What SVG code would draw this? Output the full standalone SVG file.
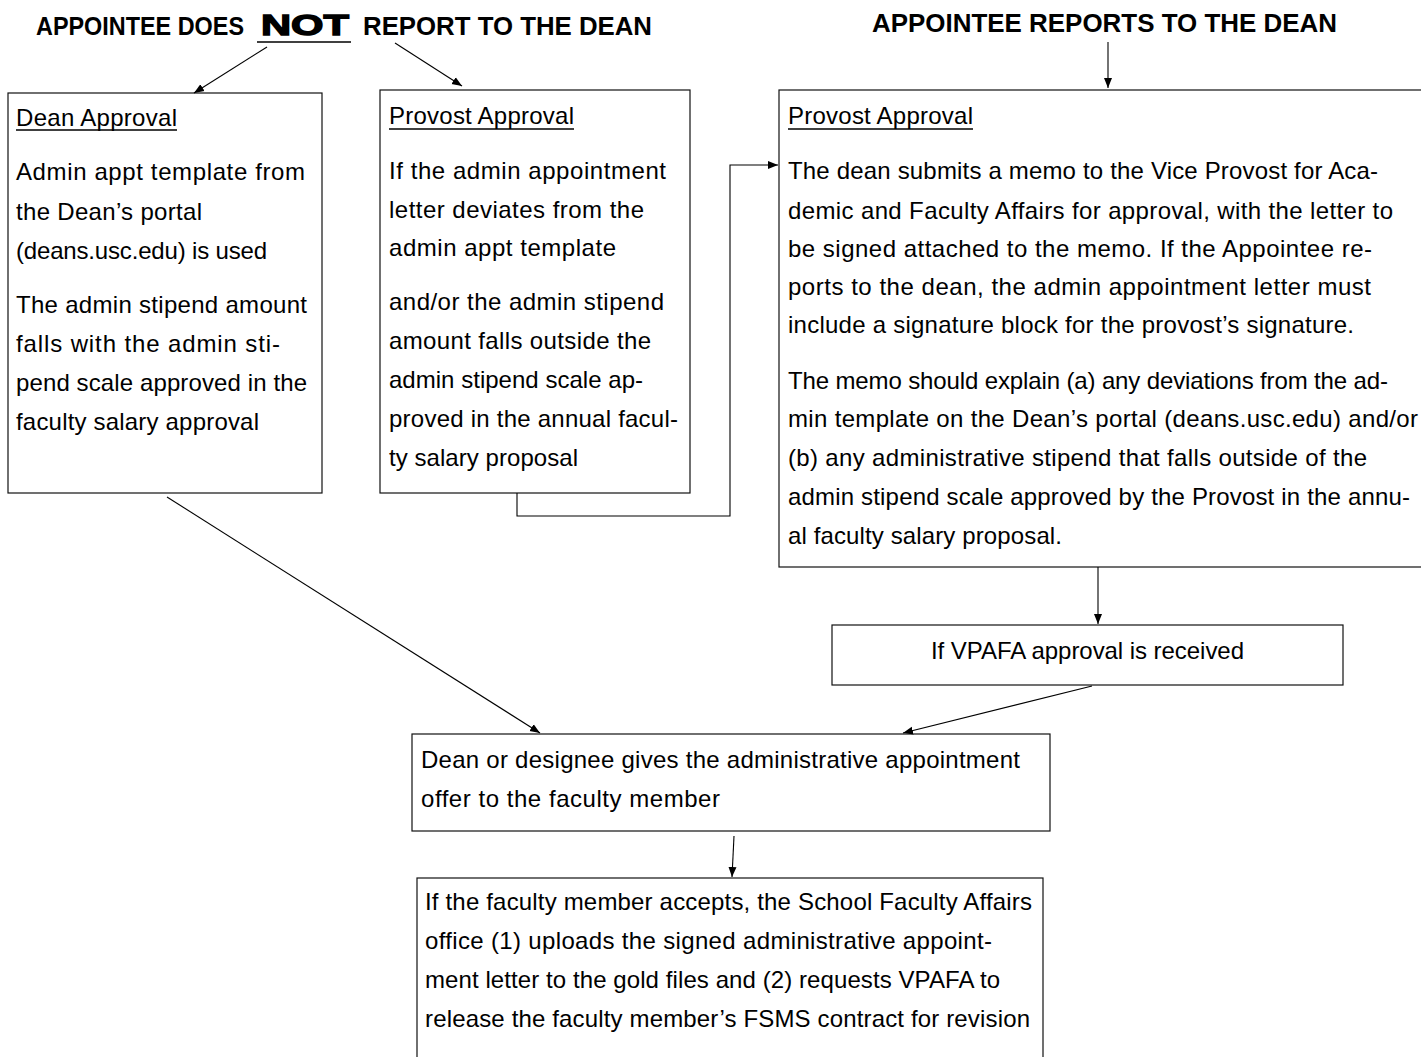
<svg xmlns="http://www.w3.org/2000/svg" width="1421" height="1057" viewBox="0 0 1421 1057">
<defs>
<style>
.t{font-family:"Liberation Sans",Arial,sans-serif;font-size:24px;fill:#000}
.h{font-family:"Liberation Sans",Arial,sans-serif;font-size:26px;font-weight:bold;fill:#000}
.box{fill:#fff;stroke:#111;stroke-width:1.2}
.c{fill:none;stroke:#000;stroke-width:1.1}
.u{stroke:#000;stroke-width:1.3}
</style>
<marker id="ah" viewBox="0 0 10 10" refX="10" refY="5" markerWidth="10" markerHeight="10" markerUnits="userSpaceOnUse" orient="auto">
<path d="M0,1 L10,5 L0,9 Z" fill="#000"/>
</marker>
</defs>
<rect width="1421" height="1057" fill="#fff"/>

<g id="title-left">
<text class="h" x="36" y="35" textLength="208" lengthAdjust="spacingAndGlyphs">APPOINTEE DOES</text>
<text x="261" y="35" textLength="88" lengthAdjust="spacingAndGlyphs" style="font-family:'Liberation Sans',Arial,sans-serif;font-size:30px;font-weight:bold;stroke:#000;stroke-width:1.4">NOT</text>
<line class="u" x1="257" y1="42" x2="351" y2="42" stroke-width="2.5"/>
<text class="h" x="363" y="35" textLength="289" lengthAdjust="spacingAndGlyphs">REPORT TO THE DEAN</text>
</g>
<g id="title-right">
<text class="h" x="872" y="32" textLength="465" lengthAdjust="spacingAndGlyphs">APPOINTEE REPORTS TO THE DEAN</text>
</g>

<g id="dean-approval">
<rect class="box" x="8" y="93" width="314" height="400"/>
<text class="t" x="16" y="126" textLength="161">Dean Approval</text>
<line class="u" x1="16" y1="130" x2="177" y2="130"/>
<text class="t" x="16" y="180" textLength="289">Admin appt template from</text>
<text class="t" x="16" y="220" textLength="186">the Dean’s portal</text>
<text class="t" x="16" y="259" textLength="251">(deans.usc.edu) is used</text>
<text class="t" x="16" y="313" textLength="291">The admin stipend amount</text>
<text class="t" x="16" y="352" textLength="264">falls with the admin sti-</text>
<text class="t" x="16" y="391" textLength="291">pend scale approved in the</text>
<text class="t" x="16" y="430" textLength="243">faculty salary approval</text>
</g>

<g id="provost-approval-left">
<rect class="box" x="380" y="90" width="310" height="403"/>
<text class="t" x="389" y="124" textLength="185">Provost Approval</text>
<line class="u" x1="389" y1="129" x2="574" y2="129"/>
<text class="t" x="389" y="179" textLength="277">If the admin appointment</text>
<text class="t" x="389" y="218" textLength="255">letter deviates from the</text>
<text class="t" x="389" y="256" textLength="227">admin appt template</text>
<text class="t" x="389" y="310" textLength="275">and/or the admin stipend</text>
<text class="t" x="389" y="349" textLength="262">amount falls outside the</text>
<text class="t" x="389" y="388" textLength="254">admin stipend scale ap-</text>
<text class="t" x="389" y="427" textLength="289">proved in the annual facul-</text>
<text class="t" x="389" y="466" textLength="189">ty salary proposal</text>
</g>

<g id="provost-approval-right">
<rect class="box" x="779" y="90" width="645" height="477"/>
<text class="t" x="788" y="124" textLength="185">Provost Approval</text>
<line class="u" x1="788" y1="129" x2="973" y2="129"/>
<text class="t" x="788" y="179" textLength="590">The dean submits a memo to the Vice Provost for Aca-</text>
<text class="t" x="788" y="219" textLength="605">demic and Faculty Affairs for approval, with the letter to</text>
<text class="t" x="788" y="257" textLength="584">be signed attached to the memo.  If the Appointee re-</text>
<text class="t" x="788" y="295" textLength="583">ports to the dean, the admin appointment letter must</text>
<text class="t" x="788" y="333" textLength="566">include a signature block for the provost’s signature.</text>
<text class="t" x="788" y="389" textLength="600">The memo should explain (a) any deviations from the ad-</text>
<text class="t" x="788" y="427" textLength="630">min template on the Dean’s portal (deans.usc.edu) and/or</text>
<text class="t" x="788" y="466" textLength="579">(b) any administrative stipend that falls outside of the</text>
<text class="t" x="788" y="505" textLength="622">admin stipend scale approved by the Provost in the annu-</text>
<text class="t" x="788" y="544" textLength="274">al faculty salary proposal.</text>
</g>

<g id="vpafa-approval">
<rect class="box" x="832" y="625" width="511" height="60"/>
<text class="t" x="931" y="659" textLength="313">If VPAFA approval is received</text>
</g>

<g id="dean-offer">
<rect class="box" x="412" y="734" width="638" height="97"/>
<text class="t" x="421" y="768" textLength="599">Dean or designee gives the administrative appointment</text>
<text class="t" x="421" y="807" textLength="299">offer to the faculty member</text>
</g>

<g id="faculty-accepts">
<rect class="box" x="417" y="878" width="626" height="190"/>
<text class="t" x="425" y="910" textLength="607">If the faculty member accepts, the School Faculty Affairs</text>
<text class="t" x="425" y="949" textLength="567">office (1) uploads the signed administrative appoint-</text>
<text class="t" x="425" y="988" textLength="575">ment letter to the gold files and (2) requests VPAFA to</text>
<text class="t" x="425" y="1027" textLength="605">release the faculty member’s FSMS contract for revision</text>
</g>

<g id="connectors">
<line class="c" x1="267" y1="47" x2="194" y2="93" marker-end="url(#ah)"/>
<line class="c" x1="395" y1="43" x2="462" y2="86" marker-end="url(#ah)"/>
<line class="c" x1="1108" y1="42" x2="1108" y2="88" marker-end="url(#ah)"/>
<polyline class="c" points="517,493 517,516 730,516 730,165 778,165" marker-end="url(#ah)"/>
<line class="c" x1="1098" y1="567" x2="1098" y2="624" marker-end="url(#ah)"/>
<line class="c" x1="167" y1="497" x2="540" y2="733" marker-end="url(#ah)"/>
<line class="c" x1="1092" y1="686" x2="903" y2="733" marker-end="url(#ah)"/>
<line class="c" x1="734" y1="836" x2="732" y2="877" marker-end="url(#ah)"/>
</g>
</svg>
